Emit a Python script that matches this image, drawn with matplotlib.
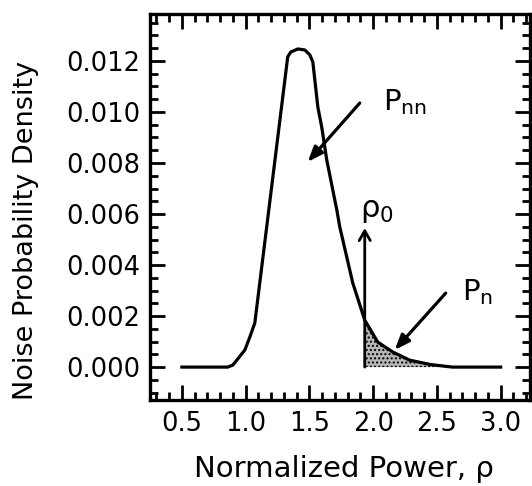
import matplotlib
matplotlib.use("Agg")
import matplotlib.pyplot as plt
import numpy as np
from matplotlib.ticker import MultipleLocator

plt.rcParams['font.family'] = ['DejaVu Sans']
plt.rcParams['mathtext.fontset'] = 'custom'
plt.rcParams['mathtext.rm'] = 'DejaVu Sans'
plt.rcParams['mathtext.it'] = 'DejaVu Sans'

# Data
rho = [0.50, 0.86, 0.90, 0.994, 1.033, 1.072, 1.33, 1.354, 1.41, 1.464, 1.503, 1.527,
       1.566, 1.597, 1.636, 1.715, 1.738, 1.84, 1.934, 2.036, 2.154, 2.287, 2.45, 2.62, 3.00]
density = [0.0, 0.0, 0.00008, 0.00067, 0.00118, 0.00173, 0.01216, 0.01235, 0.01247, 0.01243,
           0.01224, 0.01196, 0.0102, 0.0094, 0.00812, 0.00616, 0.0055, 0.0033, 0.00184, 0.00098,
           0.00059, 0.00027, 0.0001, 0.0, 0.0]
rho0 = 1.934
rho0_arrow_top = 0.00545

fig = plt.figure(figsize=(5.32, 4.86), dpi=100)
ax = fig.add_axes([150/532, 86/486, 380/532, 386/486])

rho_a = np.array(rho)
dens_a = np.array(density)
mask = rho_a >= rho0
ax.fill_between(rho_a[mask], 0, dens_a[mask], facecolor='#b8b8b8', edgecolor='none',
                hatch='....', linewidth=0)
ax.plot(rho, density, color='black', lw=2.3, solid_joinstyle='round')

# rho0 arrow
ax.annotate('', xy=(rho0, rho0_arrow_top), xytext=(rho0, 0.0),
            arrowprops=dict(arrowstyle='->,head_length=0.7,head_width=0.4', lw=2.0, color='black',
                            shrinkA=0, shrinkB=0))
ax.text(1.9, 0.00590, r'$\mathregular{ρ_0}$', fontsize=22, ha='left', va='baseline')

# Pnn arrow and label
ax.annotate('', xy=(1.487, 0.00804), xytext=(1.895, 0.01035),
            arrowprops=dict(arrowstyle='-|>,head_length=0.9,head_width=0.35', lw=2.3, color='black',
                            shrinkA=0, shrinkB=0))
ax.text(2.075, 0.01008, r'$\mathregular{P_{nn}}$', fontsize=21, ha='left', va='baseline')

# Pn arrow and label
ax.annotate('', xy=(2.169, 0.00067), xytext=(2.569, 0.0029),
            arrowprops=dict(arrowstyle='-|>,head_length=0.9,head_width=0.35', lw=2.3, color='black',
                            shrinkA=0, shrinkB=0))
ax.text(2.70, 0.00263, r'$\mathregular{P_{n}}$', fontsize=21, ha='left', va='baseline')

ax.set_xlim(0.25, 3.23)
ax.set_ylim(-0.00129, 0.01384)
ax.set_xticks([0.5, 1.0, 1.5, 2.0, 2.5, 3.0])
ax.set_xticklabels(['0.5', '1.0', '1.5', '2.0', '2.5', '3.0'])
ax.set_yticks([0.000, 0.002, 0.004, 0.006, 0.008, 0.010, 0.012])
ax.set_yticklabels(['0.000', '0.002', '0.004', '0.006', '0.008', '0.010', '0.012'])
ax.xaxis.set_minor_locator(MultipleLocator(0.1))
ax.yaxis.set_minor_locator(MultipleLocator(0.0005))

ax.tick_params(which='both', direction='in', top=True, right=True, width=2, labelsize=18.5,
               color='black')
ax.tick_params(which='major', length=11)
ax.tick_params(which='minor', length=5.5)
ax.tick_params(axis='x', pad=8)
ax.tick_params(axis='y', pad=7)
for s in ax.spines.values():
    s.set_linewidth(2.4)

fig.text(33/532, (486-230)/486, 'Noise Probability Density', rotation=90, rotation_mode='anchor',
         ha='center', va='baseline', fontsize=19.5)
fig.text(344/532, (486-477)/486, 'Normalized Power, ρ', ha='center', va='baseline', fontsize=21)

fig.savefig('out.png', dpi=100)
